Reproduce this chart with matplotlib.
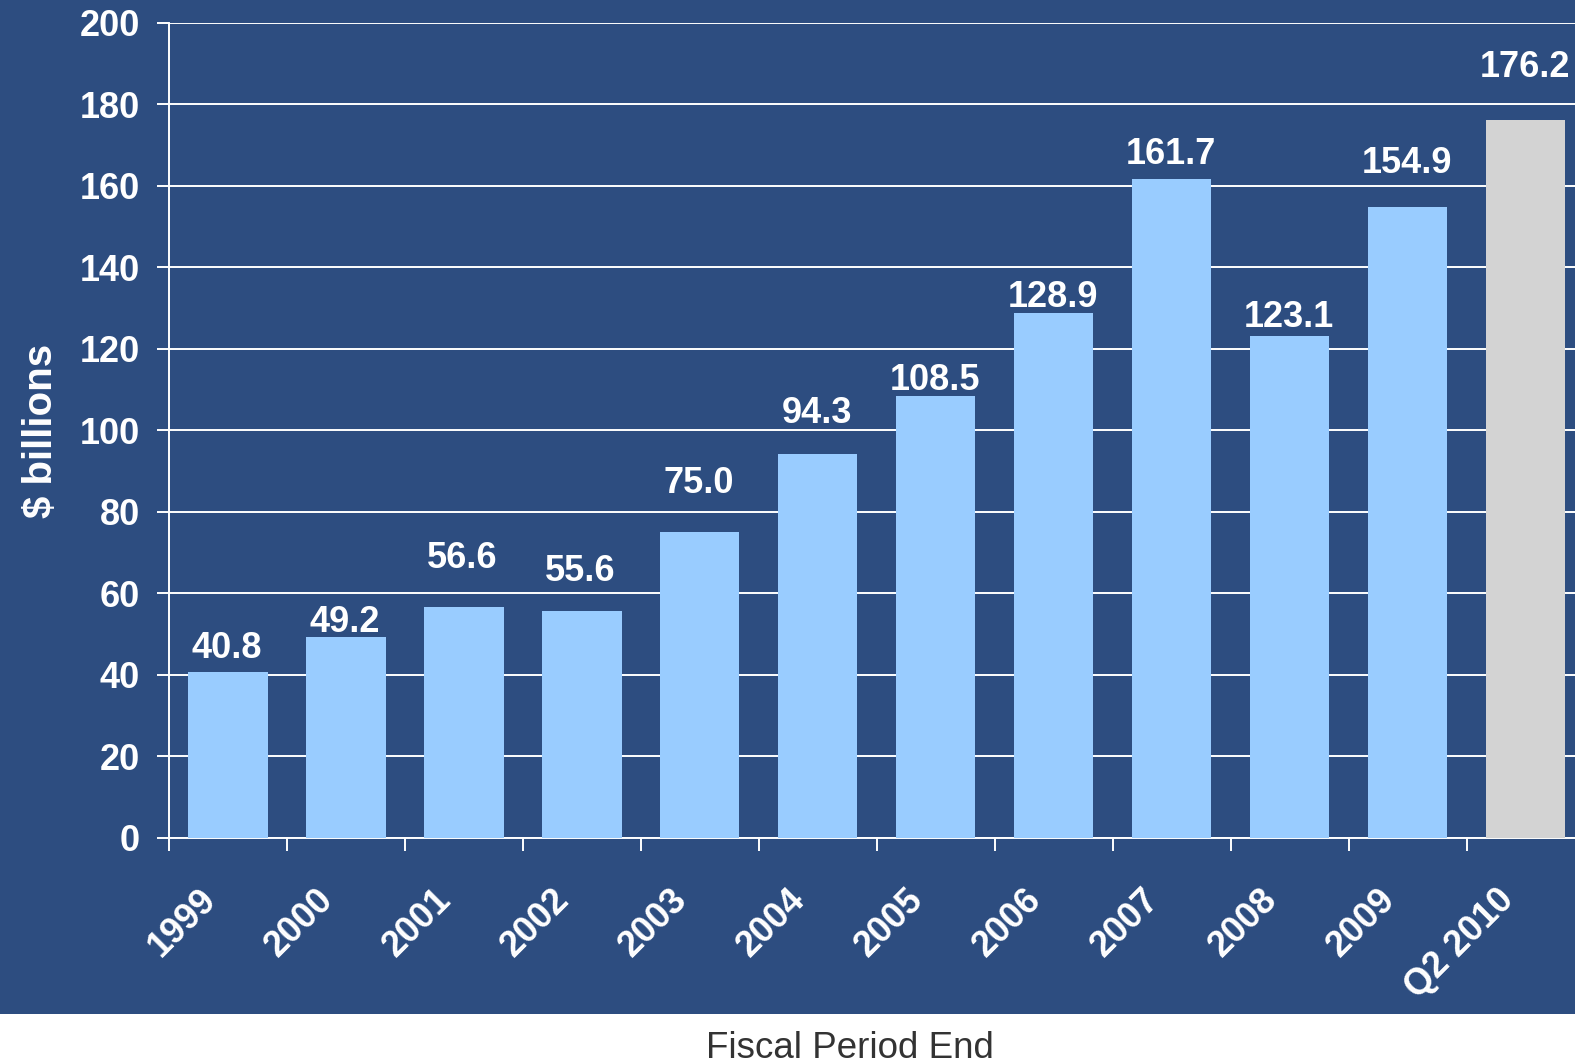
import matplotlib
matplotlib.use("Agg")
import matplotlib.pyplot as plt
import matplotlib.transforms as mtransforms
from matplotlib.patches import Rectangle
import numpy as np

periods = ["1999", "2000", "2001", "2002", "2003", "2004", "2005",
           "2006", "2007", "2008", "2009", "Q2 2010"]
values = [40.8, 49.2, 56.6, 55.6, 75.0, 94.3, 108.5,
          128.9, 161.7, 123.1, 154.9, 176.2]
bar_colors = ["#99CCFF"] * 11 + ["#D3D3D3"]
# gap (points) between each bar top and its label, as placed in the original
label_gap = [10, 4, 28, 22, 28, 22, 4, 4, 11, 7, 24, 31]

bg = "#2D4D80"
plt.rcParams['font.family'] = ['Liberation Sans', 'DejaVu Sans']

fig = plt.figure(figsize=(15.75, 10.64), dpi=100)
fig.patch.set_facecolor("white")
fig.add_artist(Rectangle((0, 0.047), 1, 0.953, transform=fig.transFigure,
                         facecolor=bg, edgecolor="none", zorder=-1))

ax = fig.add_axes([0.1073, 0.2125, 0.8990, 0.7659])
ax.set_facecolor(bg)
ax.set_zorder(1)

x = np.arange(len(periods))
ax.bar(x, values, width=0.67, color=bar_colors, zorder=3)

for xi, v, g in zip(x, values, label_gap):
    ax.annotate(f"{v:.1f}", (xi, v), xytext=(-1, g), textcoords="offset points",
                ha="center", va="baseline", color="white", fontsize=26,
                fontweight="bold", zorder=4)

ax.set_xlim(-0.5, len(periods) - 0.5)
ax.set_ylim(0, 200)
ax.set_yticks(range(0, 201, 20))
ax.yaxis.grid(True, color="white", linewidth=1.4, zorder=1)
ax.set_axisbelow(True)

ax.set_xticks(x)
ax.set_xticklabels(periods, rotation=45, ha="right", rotation_mode="anchor")
ax.set_xticks(np.arange(-0.5, len(periods), 1), minor=True)
ax.tick_params(axis="x", which="major", length=0, pad=32, labelsize=26,
               labelcolor="white")
ax.tick_params(axis="x", which="minor", length=9, width=1.4, color="white",
               direction="out")
ax.tick_params(axis="y", length=9, width=1.4, color="white", pad=12,
               labelsize=26, labelcolor="white")
shift = mtransforms.ScaledTranslation(-0.30, 0, fig.dpi_scale_trans)
for lab in ax.get_xticklabels():
    lab.set_fontweight("bold")
    lab.set_transform(lab.get_transform() + shift)
for lab in ax.get_yticklabels():
    lab.set_fontweight("bold")

for side in ["top", "right"]:
    ax.spines[side].set_visible(False)
for side in ["left", "bottom"]:
    ax.spines[side].set_color("white")
    ax.spines[side].set_linewidth(1.4)

ax.set_ylabel("$ billions", color="white", fontsize=29, fontweight="bold",
              labelpad=14)

fig.text(0.5397, 0.0056, "Fiscal Period End", ha="center", va="baseline",
         fontsize=26.5, color="#333333")

fig.savefig("out.png", dpi=100, facecolor=fig.get_facecolor())
